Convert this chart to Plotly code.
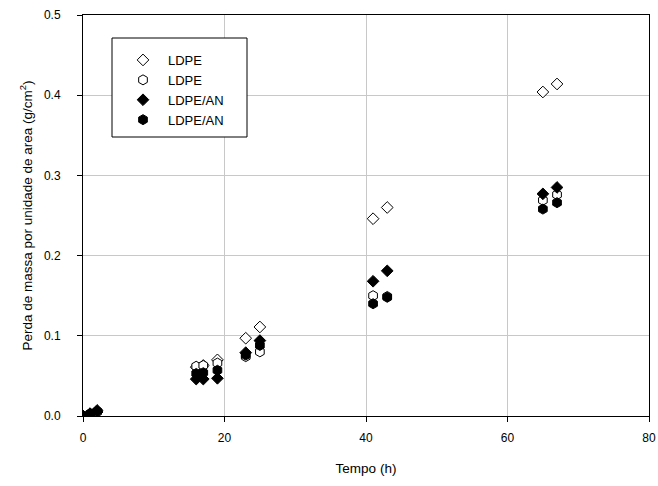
import plotly.graph_objects as go

tempo = [0, 1, 2, 16, 17, 19, 23, 25, 41, 43, 65, 67]
ldpe_a = [0, 0.002, 0.005, 0.061, 0.063, 0.070, 0.097, 0.111, 0.246, 0.260, 0.404, 0.414]
ldpe_b = [0, 0.002, 0.005, 0.062, 0.063, 0.066, 0.074, 0.080, 0.150, 0.149, 0.269, 0.276]
ldpean_a = [0, 0.003, 0.007, 0.046, 0.046, 0.047, 0.079, 0.094, 0.168, 0.181, 0.277, 0.285]
ldpean_b = [0, 0.003, 0.006, 0.053, 0.054, 0.057, 0.076, 0.088, 0.140, 0.148, 0.258, 0.266]

series = [
    ("LDPE", ldpe_a, "diamond", "white", 9),
    ("LDPE", ldpe_b, "hexagon", "white", 10),
    ("LDPE/AN", ldpean_a, "diamond", "black", 9),
    ("LDPE/AN", ldpean_b, "hexagon", "black", 10),
]

fig = go.Figure()
for name, ys, sym, col, sz in series:
    fig.add_trace(go.Scatter(
        x=tempo, y=ys, mode="markers", name=name,
        marker=dict(symbol=sym, color=col, size=sz, line=dict(color="black", width=1)),
    ))

font = "Liberation Sans, Arial, sans-serif"
H = 401.0
W = 566.0
def px_x(p):
    return (p - 83) / W
def px_y(p):
    return (416 - p) / H

fig.add_shape(type="rect", xref="paper", yref="paper",
              x0=px_x(112), x1=px_x(247), y0=px_y(137), y1=px_y(38),
              line=dict(color="black", width=1), fillcolor="white", layer="above")

fig.update_layout(
    width=658, height=486,
    margin=dict(l=83, r=9, t=15, b=70, autoexpand=False),
    paper_bgcolor="white", plot_bgcolor="white",
    font=dict(family=font, size=12, color="black"),
    showlegend=True,
    legend=dict(
        x=px_x(118), y=px_y(45), xanchor="left", yanchor="top",
        borderwidth=0, bgcolor="rgba(0,0,0,0)",
        font=dict(size=13), itemwidth=40,
        tracegroupgap=0,
    ),
    xaxis=dict(
        range=[0, 80], tickvals=[0, 20, 40, 60, 80],
        showgrid=True, gridcolor="#c8c8c8", gridwidth=1,
        showline=True, linecolor="black", linewidth=1, mirror=True,
        ticks="outside", ticklen=5, tickcolor="black",
        ticklabelstandoff=6, automargin=False,
        zeroline=False,
        title=dict(text="Tempo (h)", font=dict(size=13.5), standoff=19),
    ),
    yaxis=dict(
        range=[0, 0.5], tickvals=[0, 0.1, 0.2, 0.3, 0.4, 0.5], tickformat=".1f",
        showgrid=True, gridcolor="#c8c8c8", gridwidth=1,
        showline=True, linecolor="black", linewidth=1, mirror=True,
        ticks="outside", ticklen=5, tickcolor="black",
        ticklabelstandoff=14, automargin=False,
        zeroline=False,
        title=dict(text="Perda de massa por unidade de area (g/cm<sup>2</sup>)", font=dict(size=13.5), standoff=8),
    ),
)

fig.write_html("out.html")
